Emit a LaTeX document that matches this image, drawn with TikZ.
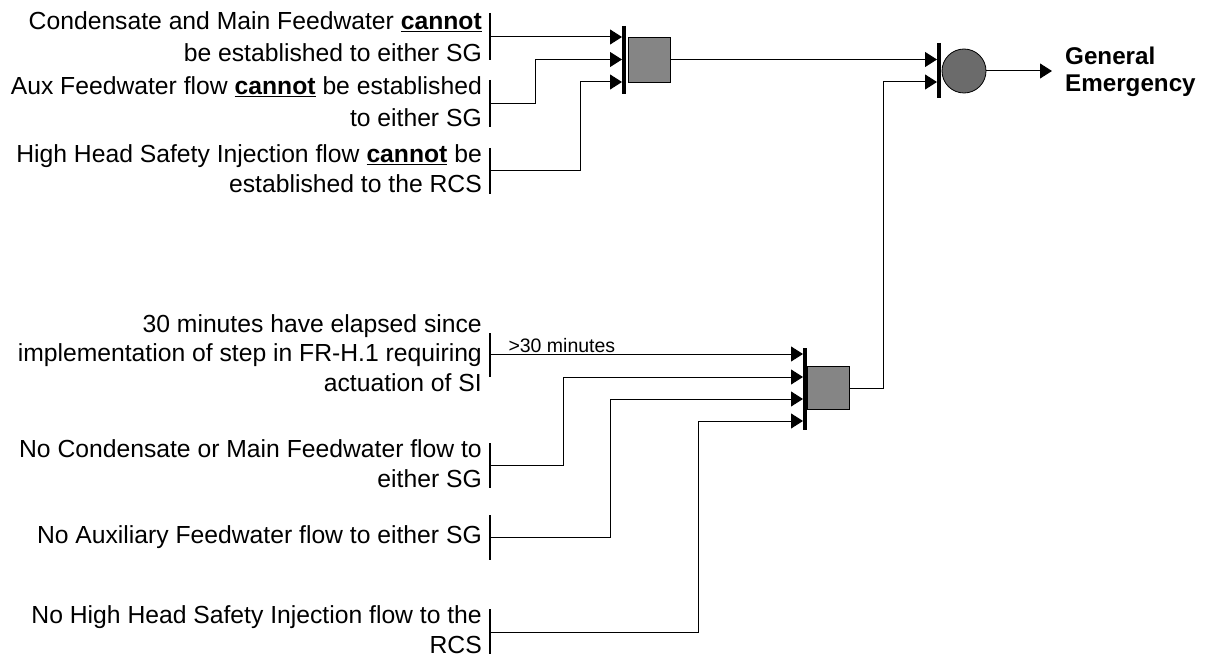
\documentclass[tikz,border=0pt]{standalone}
\usepackage{fontspec}
\setmainfont{Liberation Sans}
\usetikzlibrary{positioning, arrows.meta}

\begin{document}
\begin{tikzpicture}[x=1pt, y=-1pt]
    \tikzstyle{cond} = [anchor=base east, align=right, inner sep=0pt,
        font=\fontsize{24.7}{30}\selectfont]
    \tikzstyle{tick} = [draw, line width=1.8pt]
    \tikzstyle{gatebox} = [rectangle, draw, fill=black!48, line width=0.8pt,
        minimum width=42pt, minimum height=45pt, inner sep=0pt]
    \tikzstyle{gatebar} = [draw, line width=3.8pt]
    \tikzstyle{line} = [draw, line width=1pt, -{Triangle[length=12pt, width=15pt]}]

    \useasboundingbox (0,0) rectangle (1208,658);

    % conditions, top group
    \node [cond, font=\fontsize{24.7}{32}\selectfont] (c1) at (482,62) {Condensate and Main Feedwater \textbf{\underline{cannot}}\\be established to either SG};
    \node [cond, font=\fontsize{24.7}{32}\selectfont] (c2) at (482,127) {Aux Feedwater flow \textbf{\underline{cannot}} be established\\to either SG};
    \node [cond] (c3) at (482,193) {High Head Safety Injection flow \textbf{\underline{cannot}} be\\established to the RCS};

    % conditions, bottom group
    \node [cond, font=\fontsize{24.7}{29.5}\selectfont] (c4) at (482,391) {30 minutes have elapsed since\\implementation of step in FR-H.1 requiring\\actuation of SI};
    \node [cond] (c5) at (482,487) {No Condensate or Main Feedwater flow to\\either SG};
    \node [cond] (c6) at (482,543) {No Auxiliary Feedwater flow to either SG};
    \node [cond] (c7) at (482,653) {No High Head Safety Injection flow to the\\RCS};

    % bars beside the conditions
    \path [tick] (490,13) -- (490,60);
    \path [tick] (490,80) -- (490,127);
    \path [tick] (490,148) -- (490,194);
    \path [tick] (490,333) -- (490,377);
    \path [tick] (490,443) -- (490,488);
    \path [tick] (490,515) -- (490,560);
    \path [tick] (490,609) -- (490,654);

    \coordinate (c1o) at (490,37);
    \coordinate (c2o) at (490,104);
    \coordinate (c3o) at (490,171);
    \coordinate (c4o) at (490,354);
    \coordinate (c5o) at (490,465);
    \coordinate (c6o) at (490,537);
    \coordinate (c7o) at (490,632);

    % AND gates
    \node [gatebox] (g1) at (649,59.5) {};
    \path [gatebar] (624,26) -- (624,94);
    \coordinate (g1a) at (622,37);
    \coordinate (g1b) at (622,59.5);
    \coordinate (g1c) at (622,82);

    \node [gatebox, minimum height=43pt] (g2) at (828.5,388) {};
    \path [gatebar] (805,348) -- (805,430);
    \coordinate (g2a) at (803,354);
    \coordinate (g2b) at (803,377);
    \coordinate (g2c) at (803,399);
    \coordinate (g2d) at (803,421);

    % OR gate
    \node [circle, draw, fill=black!58, line width=0.8pt, minimum size=44pt, inner sep=0pt] (ge) at (964,71) {};
    \path [gatebar] (939,43) -- (939,98);
    \coordinate (ge1) at (937,59.5);
    \coordinate (ge2) at (937,82);
    \node [anchor=base west, align=left, inner sep=0pt,
        font=\fontsize{24.2}{27}\selectfont\bfseries] (gen) at (1065,92) {General\\Emergency};

    \path [line] (c1o) -- (g1a);
    \path [line] (c2o) -- ++(45,0) |- (g1b);
    \path [line] (c3o) -- ++(90,0) |- (g1c);

    \path [line] (c4o) -- node [pos=0, anchor=base west, xshift=18pt, yshift=2pt, inner sep=0pt,
        font=\fontsize{19.5}{22}\selectfont] {>30 minutes} (g2a);
    \path [line] (c5o) -- ++(73,0) |- (g2b);
    \path [line] (c6o) -- ++(120,0) |- (g2c);
    \path [line] (c7o) -- ++(208,0) |- (g2d);

    \path [line] (g1.east) -- (ge1);
    \path [line] (g2.east) -- ++(34,0) |- (ge2);
    \path [line] (ge.east) -- ([xshift=-13pt]gen.west |- ge.east);
\end{tikzpicture}
\end{document}
